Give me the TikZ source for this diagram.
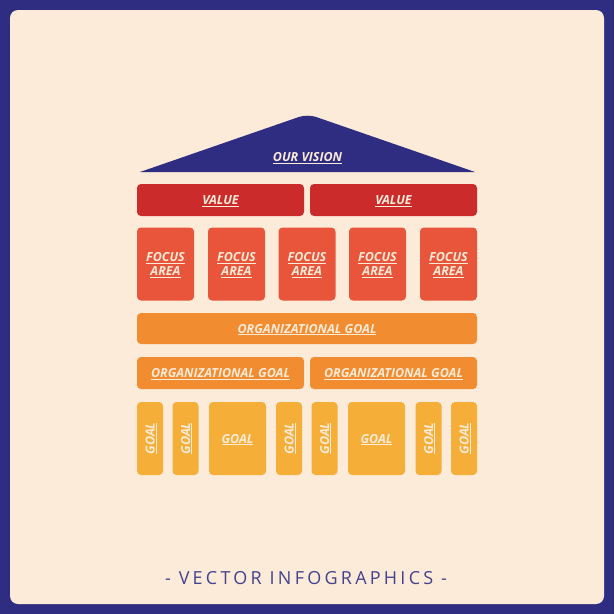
\documentclass[tikz,border=0pt]{standalone}
\usepackage{fontspec}
\setsansfont{Open Sans}
\newfontfamily\spacedfont[LetterSpace=18]{Open Sans}
\definecolor{navy}{HTML}{2E2D82}
\definecolor{cream}{HTML}{FCEBD8}
\definecolor{valred}{HTML}{CC2B2B}
\definecolor{focusred}{HTML}{E8553A}
\definecolor{orggoal}{HTML}{F28C30}
\definecolor{goalyel}{HTML}{F5AE38}
\definecolor{txt}{HTML}{FCEBD8}
\tikzset{
	blok/.style={rectangle, rounded corners=4pt, inner sep=0pt, text=txt, align=center, text depth=0pt,
		font=\sffamily\bfseries\itshape\fontsize{12.5}{14}\selectfont},
	valbox/.style={blok, fill=valred, minimum width=167pt, minimum height=32pt},
	focusbox/.style={blok, fill=focusred, minimum width=57pt, minimum height=73pt},
	orgbox/.style={blok, fill=orggoal, minimum height=32pt},
	goalbox/.style={blok, fill=goalyel, minimum height=73pt},
}
\newcommand{\ul}[1]{\underline{#1}}
\begin{document}
\begin{tikzpicture}[x=1pt,y=-1pt, line join=round]
	\useasboundingbox (0,0) rectangle (614,614);
	% khung ngoai
	\fill[navy] (0,0) rectangle (614,614);
	\fill[cream, rounded corners=8pt] (10,10) rectangle (604,604);
	% mai nha
	\fill[navy] (140,172) [rounded corners=9pt] -- (307.5,114) [sharp corners] -- (475,172) -- cycle;
	\path (307.5,157) node[blok] (vision) {\ul{OUR VISION}};
	% gia tri
	\path 
	(220.5,200) node[valbox] (val1) {\ul{VALUE}}
	(393.5,200) node[valbox] (val2) {\ul{VALUE}};
	% linh vuc
	\foreach \x [count=\i] in {165.5,236.5,307,377.5,448.5}
		\path (\x,264) node[focusbox] (focus\i) {\ul{FOCUS}\\\ul{AREA}};
	% muc tieu to chuc
	\path 
	(307,328.5) node[orgbox, minimum width=340pt, minimum height=31pt] (org) {\ul{ORGANIZATIONAL GOAL}}
	(220.5,373) node[orgbox, minimum width=167pt] (orgL) {\ul{ORGANIZATIONAL GOAL}}
	(393.5,373) node[orgbox, minimum width=167pt] (orgR) {\ul{ORGANIZATIONAL GOAL}};
	% muc tieu
	\foreach \x [count=\i] in {150,185.5,289,324.5,428.5,464}
		\path (\x,438.5) node[goalbox, minimum width=73pt, minimum height=26pt, rotate=90] (goal\i) {\ul{GOAL}};
	\path 
	(237.5,438.5) node[goalbox, minimum width=57pt] (goalA) {\ul{GOAL}}
	(376.5,438.5) node[goalbox, minimum width=57pt] (goalB) {\ul{GOAL}};
	% chu cuoi
	\path (306,578) node[text=navy!90!white, font=\spacedfont\fontsize{18}{19}\selectfont] (footer) {- VECTOR INFOGRAPHICS -};
\end{tikzpicture}
\end{document}
